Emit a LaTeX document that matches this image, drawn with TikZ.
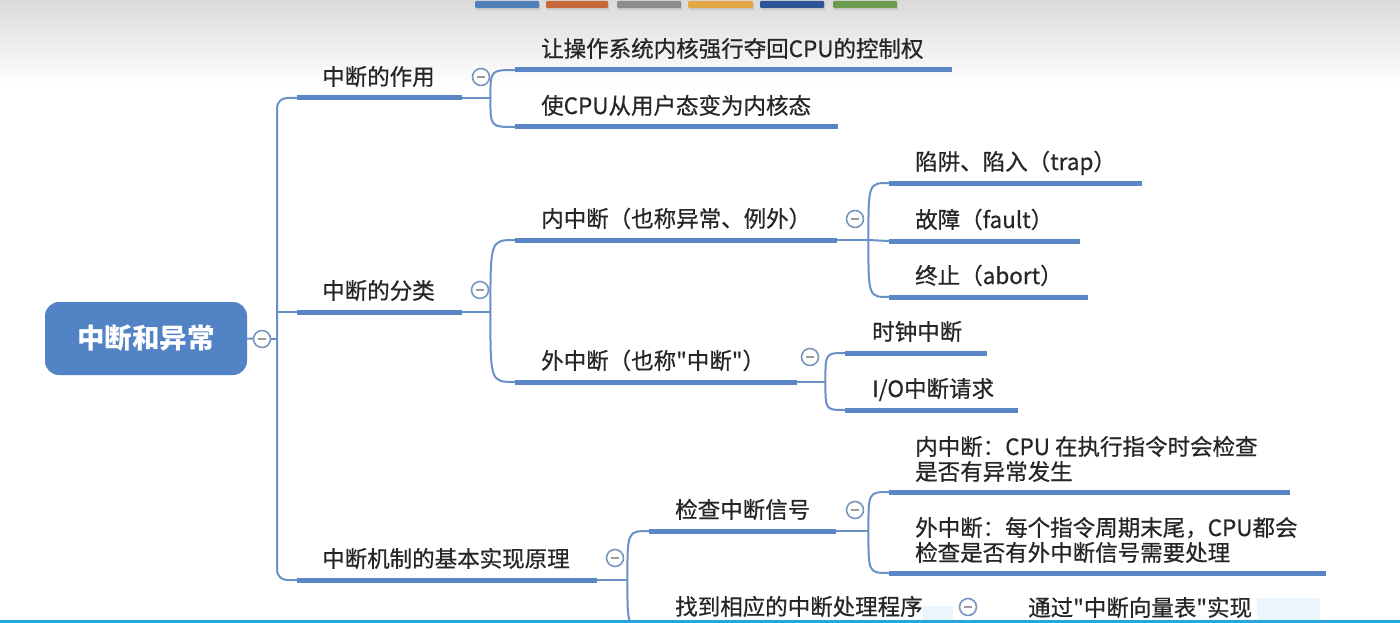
\documentclass[tikz,border=0pt]{standalone}
\usepackage{fontspec}
\setmainfont{Noto Sans CJK SC}
\newfontfamily\mapfont{Noto Sans CJK SC}[FakeBold=0.6]
\usetikzlibrary{calc}
\definecolor{ublue}{HTML}{5A86C5}
\definecolor{wblue}{HTML}{6A90C8}
\definecolor{tblue}{HTML}{7A96BE}
\definecolor{tgray}{HTML}{9A9A9A}
\definecolor{txt}{HTML}{262626}
\definecolor{rootblue}{HTML}{5283C4}
\definecolor{bgtop}{HTML}{DADADA}
\definecolor{cyanbar}{HTML}{27A6DC}
\definecolor{barA}{HTML}{4F7FB8}
\definecolor{barB}{HTML}{C8693C}
\definecolor{barC}{HTML}{8C8C8C}
\definecolor{barD}{HTML}{E3A843}
\definecolor{barE}{HTML}{2D5597}
\definecolor{barF}{HTML}{6B9B4C}
\definecolor{fadeblue}{HTML}{DDF0F9}
\newcommand\dq{\symbol{34}}
\begin{document}
\begin{tikzpicture}[x=1pt,y=-1pt,
  uline/.style={rectangle, fill=ublue, draw=none, minimum height=5pt, inner sep=0pt, anchor=west},
  wire/.style={draw=wblue, line width=2pt},
  lbl/.style={font=\mapfont\fontsize{22.5}{25}\selectfont, text=txt, inner sep=0pt, anchor=base west},
  tog/.style={circle, draw=tblue, line width=1.6pt, fill=white, minimum size=17pt, inner sep=0pt,
    path picture={\draw[tgray, line width=1.6pt] ([xshift=-4pt]path picture bounding box.center) -- ([xshift=4pt]path picture bounding box.center);}},
  rootbox/.style={rectangle, rounded corners=14pt, fill=rootblue, minimum width=202pt, minimum height=73pt, inner sep=0pt, text=white, font=\fontsize{27.5}{30}\selectfont\bfseries},
  colorbar/.style={rounded corners=1pt}
]
\useasboundingbox (0,0) rectangle (1400,623);
\clip (0,0) rectangle (1400,623);
% background
\fill[white] (0,0) rectangle (1400,623);
\shade[top color=bgtop, bottom color=white] (0,0) rectangle (1400,85);
% colour bars
\foreach \xa/\xb/\c in {475/539/barA, 546/608/barB, 617/681/barC, 688/753/barD, 760/824/barE, 833/897/barF}{
  \fill[black!22] (\xa+1,3.5) rectangle (\xb+1,10);
  \fill[\c, colorbar] (\xa,1) rectangle (\xb,8);
}

% root
\node[rootbox] (root) at (146,338.5) {中断和异常};
\coordinate (tk) at (277,339);

% level 1 underlines
\node[uline, minimum width=165pt] (u1) at (297,98) {};
\node[uline, minimum width=165pt] (u2) at (297,312) {};
\node[uline, minimum width=300pt] (u3) at (297,580) {};
% level 2
\node[uline, minimum width=437pt] (u11) at (515,70) {};
\node[uline, minimum width=323pt] (u12) at (515,127) {};
\node[uline, minimum width=322pt] (u21) at (515,240) {};
\node[uline, minimum width=282pt] (u22) at (515,382) {};
\node[uline, minimum width=187pt] (u31) at (649,531) {};
\node[uline, minimum width=301pt] (u32) at (649,628) {};
% level 3
\node[uline, minimum width=253pt] (u211) at (889,183) {};
\node[uline, minimum width=191pt] (u212) at (889,241) {};
\node[uline, minimum width=199pt] (u213) at (889,297) {};
\node[uline, minimum width=142pt] (u221) at (845,353) {};
\node[uline, minimum width=173pt] (u222) at (845,410) {};
\node[uline, minimum width=401pt] (u311) at (889,492) {};
\node[uline, minimum width=437pt] (u312) at (889,573) {};
\node[uline, minimum width=300pt] (u321) at (1003,629) {};

% labels
\node[lbl] (t1) at ([xshift=25pt,yshift=13pt]u1.west) {中断的作用};
\node[lbl] (t2) at ([xshift=25pt,yshift=13pt]u2.west) {中断的分类};
\node[lbl] (t3) at ([xshift=25pt,yshift=13pt]u3.west) {中断机制的基本实现原理};
\node[lbl] (t11) at ([xshift=26pt,yshift=13pt]u11.west) {让操作系统内核强行夺回CPU的控制权};
\node[lbl] (t12) at ([xshift=26pt,yshift=13pt]u12.west) {使CPU从用户态变为内核态};
\node[lbl] (t21) at ([xshift=26pt,yshift=13pt]u21.west) {内中断（也称异常、例外）};
\node[lbl] (t22) at ([xshift=26pt,yshift=13pt]u22.west) {外中断（也称\dq 中断\dq）};
\node[lbl] (t31) at ([xshift=26pt,yshift=13pt]u31.west) {检查中断信号};
\node[lbl] (t32) at ([xshift=26pt,yshift=13pt]u32.west) {找到相应的中断处理程序};
\node[lbl] (t211) at ([xshift=26pt,yshift=13pt]u211.west) {陷阱、陷入（trap）};
\node[lbl] (t212) at ([xshift=26pt,yshift=13pt]u212.west) {故障（fault）};
\node[lbl] (t213) at ([xshift=26pt,yshift=13pt]u213.west) {终止（abort）};
\node[lbl] (t221) at ([xshift=27pt,yshift=13pt]u221.west) {时钟中断};
\node[lbl] (t222) at ([xshift=27pt,yshift=13pt]u222.west) {I/O中断请求};
\node[lbl] (t311a) at ([xshift=26pt,yshift=37pt]u311.west) {内中断：CPU 在执行指令时会检查};
\node[lbl] (t311b) at ([xshift=26pt,yshift=12pt]u311.west) {是否有异常发生};
\node[lbl] (t312a) at ([xshift=26pt,yshift=37pt]u312.west) {外中断：每个指令周期末尾，CPU都会};
\node[lbl] (t312b) at ([xshift=26pt,yshift=12pt]u312.west) {检查是否有外中断信号需要处理};
\node[lbl] (t321) at ([xshift=25pt,yshift=13pt]u321.west) {通过\dq 中断向量表\dq 实现};

% trunk
\draw[wire] (root.east) -- (tk);
\draw[wire, rounded corners=10pt] (u1.west) -| (tk) |- (u3.west);
\draw[wire] (tk |- u2.west) -- (u2.west);

% branch 1
\draw[wire] (u1.east) -- ++(28,0) coordinate (s1);
\draw[wire] (s1) .. controls (s1 |- u11.west) .. (u11.west);
\draw[wire] (s1) .. controls (s1 |- u12.west) .. (u12.west);
% branch 2
\draw[wire] (u2.east) -- ++(28,0) coordinate (s2);
\draw[wire] (s2) .. controls (s2 |- u21.west) .. (u21.west);
\draw[wire] (s2) .. controls (s2 |- u22.west) .. (u22.west);
\draw[wire] (u21.east) -- ++(31,0) coordinate (s21);
\draw[wire] (s21) .. controls (s21 |- u211.west) .. (u211.west);
\draw[wire] (s21) -- (u212.west);
\draw[wire] (s21) .. controls (s21 |- u213.west) .. (u213.west);
\draw[wire] (u22.east) -- ++(28,0) coordinate (s22);
\draw[wire] (s22) .. controls (s22 |- u221.west) .. (u221.west);
\draw[wire] (s22) .. controls (s22 |- u222.west) .. (u222.west);
% branch 3
\draw[wire] (u3.east) -- ++(30,0) coordinate (s3);
\draw[wire] (s3) .. controls (s3 |- u31.west) .. (u31.west);
\draw[wire] (s3) .. controls (s3 |- u32.west) .. (u32.west);
\draw[wire] (u31.east) -- ++(32,0) coordinate (s31);
\draw[wire] (s31) .. controls (s31 |- u311.west) .. (u311.west);
\draw[wire] (s31) .. controls (s31 |- u312.west) .. (u312.west);
\draw[wire] (u32.east) -- ++(31,0) coordinate (s32);
\draw[wire] (s32) -- (u321.west);

% toggles
\node[tog] (c0) at (262,339) {};
\node[tog] (c1) at (481,77) {};
\node[tog] (c2) at (480,290) {};
\node[tog] (c3) at (615,558) {};
\node[tog] (c21) at (855,219) {};
\node[tog] (c22) at (810,357) {};
\node[tog] (c31) at (855,510) {};
\node[tog] (c32) at (968,607) {};

% bottom fade and window edge
\fill[fadeblue, opacity=0.6] (923,606) rectangle (953,620);
\fill[fadeblue, opacity=0.6] (1257,598) rectangle (1320,620);
\fill[cyanbar] (0,619.5) rectangle (1400,623);
\end{tikzpicture}
\end{document}
